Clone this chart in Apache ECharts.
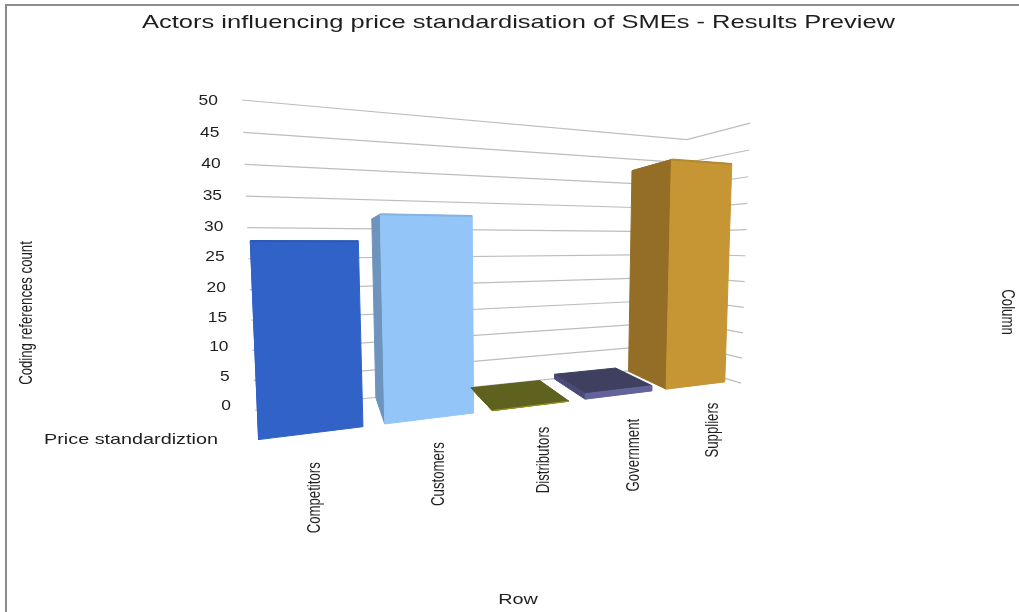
<!DOCTYPE html>
<html>
<head>
<meta charset="utf-8">
<title>Actors influencing price standardisation of SMEs</title>
<script src="https://cdn.jsdelivr.net/npm/echarts@6/dist/echarts.min.js"></script>
<style>
  html, body { margin: 0; padding: 0; background: #fff; }
  #chart { width: 1019px; height: 612px; }
</style>
</head>
<body>
<div id="chart"></div>
<script>
// Chart content
const chartTitle = 'Actors influencing price standardisation of SMEs - Results Preview';
const categories = ['Competitors', 'Customers', 'Distributors', 'Government', 'Suppliers'];
const referenceCounts = [28, 32, 0, 1, 43];
const tickValues = [0, 5, 10, 15, 20, 25, 30, 35, 40, 45, 50];

// Face colours per bar
const frontColors = ['#3162C7', '#94C5F8', '#8F9022', '#63639B', '#C59633'];
const sideColors = ['#2A55AD', '#6C94BC', '#60611E', '#4A4A78', '#946E26'];
const topColors = ['#2D5AB5', '#85B3E2', '#5F611E', '#3F3F60', '#B38A30'];

// Perspective camera: one vanishing point per world axis, with a
// foreshortening weight for each. (u: along the rear wall, w: towards
// the viewer, h: up.)
const ORIGIN = [255, 410];
const VP_U = [1847, 243], K_U = 0.3654;
const VP_W = [280, 246], K_W = -0.1777;
const VP_H = [520, 6700], K_H = -0.04697;

function project(u, w, h) {
  const d = 1 + K_U * u + K_W * w + K_H * h;
  return [
    (ORIGIN[0] + K_U * u * VP_U[0] + K_W * w * VP_W[0] + K_H * h * VP_H[0]) / d,
    (ORIGIN[1] + K_U * u * VP_U[1] + K_W * w * VP_W[1] + K_H * h * VP_H[1]) / d
  ];
}

// Turns a value on the hidden cartesian axes into camera coordinates
function toWorld(api, params, index, value) {
  const p = api.coord([index, value]);
  const cs = params.coordSys;
  return {
    u: (p[0] - cs.x) / cs.width,
    h: (cs.y + cs.height - p[1]) / cs.height,
    band: api.size([1, 0])[0] / cs.width
  };
}

const BAR_SHARE = 0.815, BAR_SHIFT = -0.0065, BAR_HEIGHT = 0.99;
const DEPTH_BACK = 0.02, DEPTH_FRONT = 0.885;
const TEXT_FONT = 'Liberation Sans, Arial, sans-serif';
const TEXT_COLOR = '#1E1E1E';
const CATEGORY_DROP = [20, 16, 14, 18, 12];

// The bars' rear edges lean slightly further to the right than the floor lines
const rearLean = u => u + 0.008 + 0.02 * u;

function renderBar(params, api) {
  const i = api.value(0);
  const top = toWorld(api, params, i, api.value(1));
  const half = top.band * BAR_SHARE / 2;
  const u0 = top.u + BAR_SHIFT - half, u1 = top.u + BAR_SHIFT + half;
  const r0 = rearLean(u0), r1 = rearLean(u1);
  const h = top.h * BAR_HEIGHT;
  const face = (pts, fill) => ({
    type: 'polygon',
    shape: { points: pts },
    style: { fill: fill, stroke: fill, lineWidth: 1, lineJoin: 'round' }
  });
  const children = [
    face([project(r0, DEPTH_BACK, h), project(r1, DEPTH_BACK, h), project(u1, DEPTH_FRONT, h), project(u0, DEPTH_FRONT, h)], topColors[i]),
    face([project(r0, DEPTH_BACK, 0), project(u0, DEPTH_FRONT, 0), project(u0, DEPTH_FRONT, h), project(r0, DEPTH_BACK, h)], sideColors[i]),
    face([project(u0, DEPTH_FRONT, 0), project(u1, DEPTH_FRONT, 0), project(u1, DEPTH_FRONT, h), project(u0, DEPTH_FRONT, h)], frontColors[i])
  ];
  if (h > 0.3) {
    children.push({
      type: 'polyline',
      shape: { points: [project(u0, DEPTH_FRONT, h), project(u1, DEPTH_FRONT, h)] },
      style: { fill: null, stroke: topColors[i], lineWidth: 2 }
    });
  }
  return { type: 'group', children: children };
}

function renderWallLine(params, api) {
  const world = toWorld(api, params, 0, api.value(0));
  const h = world.h;
  const pts = [project(0, 0, h), project(1, 0, h), project(1, 1, h)];
  const anchor = project(0, 0, h);
  return {
    type: 'group',
    children: [
      { type: 'polyline', shape: { points: pts }, style: { fill: null, stroke: '#BDBDBD', lineWidth: 1.2 } },
      {
        type: 'text', x: anchor[0] - 24, y: anchor[1] - 4 + 5 * h, scaleX: 1.2,
        style: { text: String(api.value(0)), textAlign: 'right', textVerticalAlign: 'middle', font: '14.5px ' + TEXT_FONT, fill: TEXT_COLOR }
      }
    ]
  };
}

function renderCategoryLabel(params, api) {
  const i = api.value(0);
  const world = toWorld(api, params, i, 0);
  const p = project(world.u + BAR_SHIFT, 1.12, 0);
  return {
    type: 'text', x: p[0] + 1, y: p[1] + CATEGORY_DROP[i], rotation: Math.PI / 2, scaleY: 1.41,
    style: { text: categories[i], textAlign: 'right', textVerticalAlign: 'middle', font: '13.2px ' + TEXT_FONT, fill: TEXT_COLOR }
  };
}

const stretchedText = (text, x, y, stretch, size) => ({
  type: 'text', x: x, y: y, scaleX: stretch,
  style: { text: text, textAlign: 'center', textVerticalAlign: 'middle', font: size + 'px ' + TEXT_FONT, fill: TEXT_COLOR }
});
const turnedText = (text, x, y, rotation) => ({
  type: 'text', x: x, y: y, rotation: rotation, scaleY: 1.41,
  style: { text: text, textAlign: 'center', textVerticalAlign: 'middle', font: '13.2px ' + TEXT_FONT, fill: TEXT_COLOR }
});

const chart = echarts.init(document.getElementById('chart'), null, { renderer: 'canvas' });
chart.setOption({
  animation: false,
  backgroundColor: '#fff',
  grid: { left: 0, right: 0, top: 0, bottom: 0 },
  xAxis: { type: 'category', data: categories, show: false },
  yAxis: { type: 'value', min: 0, max: 50, interval: 5, show: false },
  graphic: [
    { type: 'line', shape: { x1: 6, y1: 5, x2: 6, y2: 612 }, style: { stroke: '#8C8C8C', lineWidth: 2 } },
    { type: 'line', shape: { x1: 5, y1: 5, x2: 1019, y2: 5 }, style: { stroke: '#8C8C8C', lineWidth: 2 } },
    stretchedText(chartTitle, 518.5, 23, 1.343, 19),
    stretchedText('Price standardiztion', 131, 440, 1.32, 15),
    stretchedText('Row', 518, 600, 1.32, 15),
    turnedText('Coding references count', 27, 313, Math.PI / 2),
    turnedText('Column', 1007, 312, -Math.PI / 2)
  ],
  series: [
    { type: 'custom', coordinateSystem: 'cartesian2d', silent: true, renderItem: renderWallLine, encode: { y: 0 }, data: tickValues.map(v => [v]), clip: false, z: 1 },
    { type: 'custom', coordinateSystem: 'cartesian2d', silent: true, renderItem: renderBar, encode: { x: 0, y: 1 }, data: referenceCounts.map((v, i) => [i, v]), clip: false, z: 2 },
    { type: 'custom', coordinateSystem: 'cartesian2d', silent: true, renderItem: renderCategoryLabel, encode: { x: 0 }, data: categories.map((c, i) => [i]), clip: false, z: 3 }
  ]
});
</script>
</body>
</html>
